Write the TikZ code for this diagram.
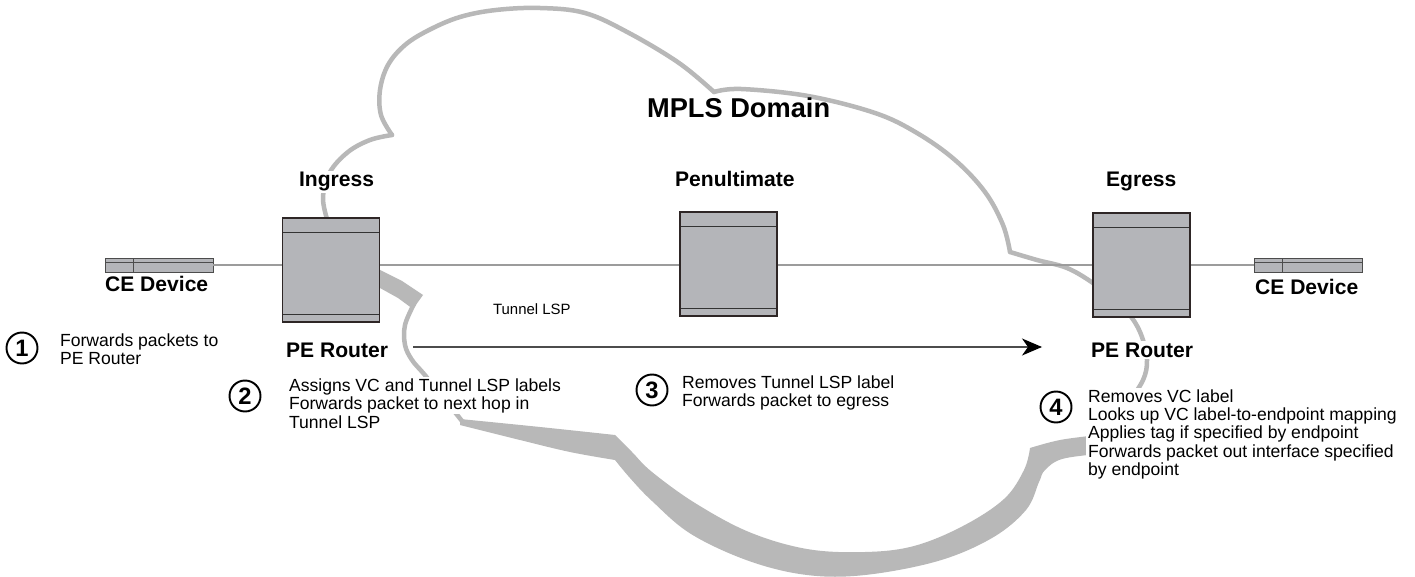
\documentclass[tikz,border=0pt]{standalone}
\usepackage{fontspec}
\setmainfont{Liberation Sans}
\usetikzlibrary{arrows.meta}
\definecolor{cloudc}{HTML}{B8B8B8}
\definecolor{boxfill}{HTML}{B4B5B9}
\definecolor{boxedge}{HTML}{2E2626}
\definecolor{linec}{HTML}{9C9C9C}
\newcommand\txtblock[1]{\begin{tabular}[t]{@{}l@{}}#1\end{tabular}}
\tikzset{
  cloudline/.style={draw=cloudc, line width=0.09cm, line cap=round, line join=round},
  router/.style={draw=boxedge, fill=boxfill, line width=0.9pt, minimum width=1.94cm,
    minimum height=2.08cm, inner sep=0, path picture={
      \draw[gray!40!black, line width=0.5pt]
        ([yshift=-0.28cm]path picture bounding box.north west) -- ([yshift=-0.28cm]path picture bounding box.north east);
      \draw[gray!40!black, line width=0.5pt]
        ([yshift=0.16cm]path picture bounding box.south west) -- ([yshift=0.16cm]path picture bounding box.south east);
    }},
  cedev/.style={draw=gray!60!black, fill=boxfill, line width=0.5pt, minimum width=2.16cm,
    minimum height=0.28cm, inner sep=0, path picture={
      \draw[gray!60!black, line width=0.4pt]
        ([yshift=-0.08cm]path picture bounding box.north west) -- ([yshift=-0.08cm]path picture bounding box.north east);
      \draw[gray!60!black, line width=0.4pt]
        ([xshift=0.56cm]path picture bounding box.north west) -- ([xshift=0.56cm]path picture bounding box.south west);
    }},
  mainline/.style={draw=linec, line width=1.3pt},
  arrowline/.style={draw=gray!60!black, line width=0.8pt,
    -{Stealth[length=0.4cm, width=0.34cm, inset=0.12cm, color=black]}},
  lbl/.style={font=\bfseries\fontsize{12}{14}\selectfont, anchor=base west, inner sep=1pt, fill=white},
  body/.style={font=\fontsize{10}{10.5}\selectfont, anchor=base west, inner xsep=1pt, inner ysep=0.5pt, fill=white},
  num/.style={circle, draw=black, line width=1.1pt, minimum size=0.62cm, inner sep=0,
    font=\bfseries\fontsize{13.5}{13.5}\selectfont, fill=white},
}
\begin{document}
\begin{tikzpicture}[x=0.02cm, y=-0.02cm]
\fill[white] (0,0) rectangle (1415,577);
\useasboundingbox (0,0) rectangle (1415,577);

% ---- cloud ----
\draw[cloudline] plot[smooth, tension=0.6] coordinates {(327,219) (323,197) (330,172) (348,152) (370,140) (392,135)};
\draw[cloudline] plot[smooth, tension=0.6] coordinates {(392,135) (381,115) (380,90) (388,65) (405,45) (429,30) (460,17) (496,10) (540,8) (585,13) (629,33) (679,63) (714,92)};
\draw[cloudline] plot[smooth, tension=0.6] coordinates {(714,92) (741,89) (808,96) (875,113) (917,133) (955,160) (985,192) (1003,225) (1010,252)};
\draw[cloudline] plot[smooth, tension=0.6] coordinates {(1010,252) (1037,260) (1067,268) (1093,283) (1115,300) (1132,318) (1142,337) (1147,360) (1143,380) (1128,402) (1110,418) (1090,433)};
\fill[cloudc] (380,270) -- (402,281) -- (423,295) -- (413,309) -- (398,298) -- (380,288) -- cycle;
\draw[cloudline] plot[smooth, tension=0.6] coordinates {(414,304) (405,325) (405,345) (412,360) (424,374) (442,396) (462,421)};
\fill[cloudc] plot[smooth, tension=0.6] coordinates {(460,419) (540,427) (615,435)}
  -- plot[smooth, tension=0.6] coordinates {(615,435) (632,452) (652,472) (695,503) (749,532) (807,549) (865,552) (914,546) (963,526) (1004,499) (1024,470) (1030,448)}
  -- plot[smooth, tension=0.6] coordinates {(1030,448) (1060,440) (1098,435)}
  -- (1098,454)
  -- plot[smooth, tension=0.6] coordinates {(1098,454) (1062,459) (1045,470) (1039,482) (1026,510) (992,538) (938,561) (865,575) (807,575) (749,561) (691,534) (652,501) (630,478) (615,460)}
  -- plot[smooth, tension=0.6] coordinates {(615,460) (570,452) (520,440) (460,425)} -- cycle;

% ---- devices ----
\node[cedev] (ceL) at (159,265) {};
\node[cedev] (ceR) at (1308.5,265) {};
\node[router] (ing) at (331,270) {};
\node[router] (pen) at (728.5,264) {};
\node[router] (egr) at (1141.5,265) {};

% ---- main line ----
\draw[mainline] (ceL.east) -- (ceL.east -| ing.west);
\draw[mainline] (ceL.east -| ing.east) -- (ceL.east -| pen.west);
\draw[mainline] (ceL.east -| pen.east) -- (ceL.east -| egr.west);
\draw[mainline] (ceL.east -| egr.east) -- (ceR.west);

% ---- labels ----
\node[font=\bfseries\fontsize{15.5}{18}\selectfont, anchor=base west, inner sep=1pt] (mpls) at (645,118) {MPLS Domain};
\node[lbl] (lIng) at (297,187) {Ingress};
\node[lbl] (lPen) at (673,187) {Penultimate};
\node[lbl] (lEgr) at (1104,187) {Egress};
\node[lbl] (lCeL) at (103,292) {CE Device};
\node[lbl] (lCeR) at (1253,295) {CE Device};
\node[lbl] (lPeL) at (284,357) {PE Router};
\node[lbl] (lPeR) at (1089,357) {PE Router};
\node[font=\fontsize{8.5}{10}\selectfont, anchor=base west, inner sep=1pt] (tun) at (491,315) {Tunnel LSP};

% ---- arrow ----
\coordinate (a1) at (413,347);
\coordinate (a2) at (1042,347);
\draw[arrowline] (a1) -- (a2);

% ---- steps ----
\node[num] (n1) at (22,348) {1};
\node[body] (t1) at (58,346) {\txtblock{Forwards packets to\\PE Router}};
\node[num] (n2) at (245,396) {2};
\node[body] (t2a) at (287,391) {Assigns VC and Tunnel LSP labels};
\node[body] (t2b) at (287,409.5) {Forwards packet to next hop in};
\node[body] (t2c) at (287,428) {Tunnel LSP};
\node[num] (n3) at (652,390) {3};
\node[body] (t3) at (680,388) {\txtblock{Removes Tunnel LSP label\\Forwards packet to egress}};
\node[num] (n4) at (1056,407) {4};
\node[body] (t4) at (1086,402) {\txtblock{Removes VC label\\Looks up VC label-to-endpoint mapping\\Applies tag if specified by endpoint\\Forwards packet out interface specified\\by endpoint}};
\end{tikzpicture}
\end{document}
